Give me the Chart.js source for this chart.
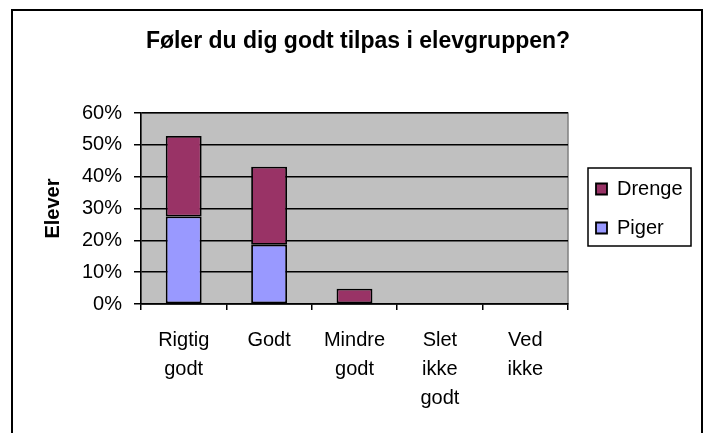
<!DOCTYPE html>
<html>
<head>
<meta charset="utf-8">
<script src="https://cdn.jsdelivr.net/npm/chart.js@4/dist/chart.umd.min.js"></script>
<style>
  html, body { margin: 0; padding: 0; background: #fff; }
  #wrap { position: relative; width: 704px; height: 433px; overflow: hidden; }
  #c { position: absolute; left: 0; top: 0; }
  #frame { position: absolute; left: 11px; top: 9px; width: 692px; height: 520px; border: 2px solid #000; box-sizing: border-box; pointer-events: none; }
</style>
</head>
<body>
<div id="wrap">
  <canvas id="c" width="704" height="433"></canvas>
  <div id="frame"></div>
</div>
<script>
// ---- data ----
const chartTitle = "Føler du dig godt tilpas i elevgruppen?";
const yAxisTitle = "Elever";
const categories = [["Rigtig", "godt"], "Godt", ["Mindre", "godt"], ["Slet", "ikke", "godt"], ["Ved", "ikke"]];
const seriesNames = ["Piger", "Drenge"];
const pigerValues = [27.5, 18.6, 0, 0, 0];
const drengeValues = [25.3, 24.5, 4.8, 0, 0];
const yMin = 0;
const yMax = 60;
const yStep = 10;
const tickSuffix = "%";

// ---- styling ----
const FONT = "'Liberation Sans', Arial, sans-serif";
Chart.defaults.font.family = FONT;
Chart.defaults.color = "#000";

const LEGEND_W = 115;

const helpers = {
  id: "helpers",
  beforeLayout(chart) {
    const lg = chart.legend;
    if (lg && !lg.__fixed) {
      const orig = lg.fit.bind(lg);
      lg.fit = function () { orig(); this.width = LEGEND_W; };
      lg.__fixed = true;
    }
  },
  beforeDraw(chart) {
    const { ctx, chartArea: a } = chart;
    ctx.save();
    ctx.fillStyle = "#fff";
    ctx.fillRect(0, 0, chart.width, chart.height);
    ctx.fillStyle = "#C0C0C0";
    ctx.fillRect(a.left, a.top, a.right - a.left, a.bottom - a.top);
    ctx.strokeStyle = "#808080";
    ctx.lineWidth = 1.5;
    ctx.strokeRect(a.left, a.top, a.right - a.left, a.bottom - a.top);
    ctx.restore();
  },
  afterDraw(chart) {
    const hb = chart.legend && chart.legend.legendHitBoxes;
    if (!hb || !hb.length) return;
    const first = hb[0], last = hb[hb.length - 1];
    const left = first.left - 8;
    const top = first.top - 11;
    const right = first.left + 95;
    const bottom = last.top + last.height + 8;
    const ctx = chart.ctx;
    ctx.save();
    ctx.strokeStyle = "#000";
    ctx.lineWidth = 1.5;
    ctx.strokeRect(left, top, right - left, bottom - top);
    ctx.restore();
  }
};

new Chart(document.getElementById("c"), {
  type: "bar",
  data: {
    labels: categories,
    datasets: [
      {
        label: seriesNames[0],
        data: pigerValues,
        backgroundColor: "#9999FF",
        borderColor: "#000",
        borderWidth: 1.8,
        borderSkipped: false,
        barPercentage: 0.42,
        categoryPercentage: 1.0
      },
      {
        label: seriesNames[1],
        data: drengeValues,
        backgroundColor: "#993366",
        borderColor: "#000",
        borderWidth: 1.8,
        borderSkipped: false,
        barPercentage: 0.42,
        categoryPercentage: 1.0
      }
    ]
  },
  options: {
    responsive: false,
    animation: false,
    devicePixelRatio: 1,
    layout: { padding: { left: 24, right: 12, top: 10, bottom: 0 } },
    plugins: {
      title: {
        display: true,
        text: chartTitle,
        color: "#000",
        font: { size: 23, weight: "bold", family: FONT },
        padding: { top: 18, bottom: 57.4 }
      },
      legend: {
        display: true,
        position: "right",
        fullSize: false,
        reverse: true,
        labels: {
          boxWidth: 11,
          boxHeight: 11,
          padding: 19,
          color: "#000",
          font: { size: 20, family: FONT }
        }
      },
      tooltip: { enabled: false }
    },
    scales: {
      x: {
        stacked: true,
        offset: true,
        grid: {
          offset: true,
          drawOnChartArea: false,
          drawTicks: true,
          tickLength: 6,
          color: "#000",
          lineWidth: 1.5
        },
        border: { display: true, color: "#000", width: 1.5 },
        ticks: {
          color: "#000",
          padding: 16,
          maxRotation: 0,
          autoSkip: false,
          font: { size: 20, family: FONT, lineHeight: 1.45 }
        },
        afterFit(s) { s.height = 129; }
      },
      y: {
        stacked: true,
        min: yMin,
        max: yMax,
        grid: {
          color: "#000",
          lineWidth: 1.5,
          drawTicks: true,
          tickLength: 7
        },
        border: { display: true, color: "#000", width: 1.5 },
        ticks: {
          stepSize: yStep,
          color: "#000",
          padding: 12,
          font: { size: 20, family: FONT },
          callback: (v) => v + tickSuffix
        },
        title: {
          display: true,
          text: yAxisTitle,
          color: "#000",
          font: { size: 20, weight: "bold", family: FONT },
          padding: { top: 17, bottom: 0 }
        },
        afterFit(s) { s.width = 117; }
      },
      yRight: {
        type: "linear",
        position: "right",
        display: true,
        grid: { display: false, drawTicks: false },
        border: { display: false },
        ticks: { display: false },
        afterFit(s) { s.width = 9; }
      }
    }
  },
  plugins: [helpers]
});
</script>
</body>
</html>
